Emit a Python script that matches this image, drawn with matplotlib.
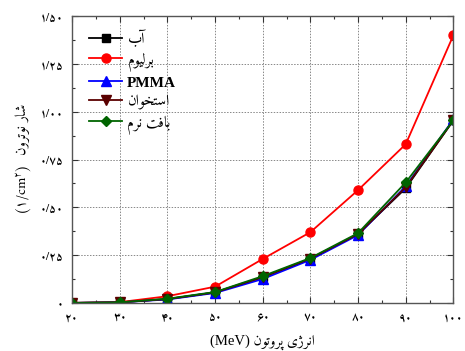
import matplotlib
matplotlib.use("Agg")
import matplotlib.pyplot as plt
from matplotlib.ticker import MultipleLocator, FixedLocator

plt.rcParams['font.family'] = ['Liberation Serif', 'Amiri', 'DejaVu Sans']
plt.rcParams['mathtext.fontset'] = 'custom'
plt.rcParams['mathtext.rm'] = 'Amiri'
plt.rcParams['mathtext.it'] = 'Amiri'
plt.rcParams['mathtext.bf'] = 'Amiri:bold'
plt.rcParams['mathtext.fallback'] = 'stix'

# ---------------- data ----------------
energy = [20, 30, 40, 50, 60, 70, 80, 90, 100]
water = [0, 0.003, 0.02, 0.055, 0.135, 0.23, 0.36, 0.60, 0.955]
beryllium = [0, 0.004, 0.035, 0.085, 0.23, 0.37, 0.59, 0.83, 1.40]
pmma = [0, 0.003, 0.018, 0.052, 0.125, 0.225, 0.355, 0.61, 0.96]
bone = [0, 0.003, 0.02, 0.055, 0.135, 0.232, 0.36, 0.605, 0.955]
soft_tissue = [0, 0.003, 0.022, 0.057, 0.14, 0.235, 0.365, 0.63, 0.955]

x_ticks = [20, 30, 40, 50, 60, 70, 80, 90, 100]
x_tick_labels = ['۲۰', '۳۰', '۴۰', '۵۰', '۶۰', '۷۰', '۸۰', '۹۰', '۱۰۰']
y_ticks = [0, 0.25, 0.5, 0.75, 1.0, 1.25, 1.5]
y_tick_labels = ['۰', '۰/۲۵', '۰/۵۰', '۰/۷۵', '۱/۰۰', '۱/۲۵', '۱/۵۰']

labels = ['آب', 'برلیوم', 'PMMA', 'استخوان', 'بافت نرم']
xlabel_fa = 'انرژی پروتون'
ylabel_fa = 'شار نوترون'

# ---------------- simple Persian shaping ----------------
FORMS = {
    'ا': ('\uFE8D', '\uFE8E', None, None),
    'آ': ('\uFE81', '\uFE82', None, None),
    'ب': ('\uFE8F', '\uFE90', '\uFE91', '\uFE92'),
    'پ': ('\uFB56', '\uFB57', '\uFB58', '\uFB59'),
    'ت': ('\uFE95', '\uFE96', '\uFE97', '\uFE98'),
    'خ': ('\uFEA5', '\uFEA6', '\uFEA7', '\uFEA8'),
    'ر': ('\uFEAD', '\uFEAE', None, None),
    'ز': ('\uFEAF', '\uFEB0', None, None),
    'ژ': ('\uFB8A', '\uFB8B', None, None),
    'س': ('\uFEB1', '\uFEB2', '\uFEB3', '\uFEB4'),
    'ش': ('\uFEB5', '\uFEB6', '\uFEB7', '\uFEB8'),
    'ف': ('\uFED1', '\uFED2', '\uFED3', '\uFED4'),
    'ل': ('\uFEDD', '\uFEDE', '\uFEDF', '\uFEE0'),
    'م': ('\uFEE1', '\uFEE2', '\uFEE3', '\uFEE4'),
    'ن': ('\uFEE5', '\uFEE6', '\uFEE7', '\uFEE8'),
    'و': ('\uFEED', '\uFEEE', None, None),
    'ی': ('\uFBFC', '\uFBFD', '\uFBFE', '\uFBFF'),
}


def fa(text):
    if not any(c in FORMS for c in text):
        return text
    out = []
    n = len(text)
    for i, c in enumerate(text):
        if c not in FORMS:
            out.append(c)
            continue
        prev_j = i > 0 and text[i - 1] in FORMS and FORMS[text[i - 1]][2] is not None
        next_j = i + 1 < n and text[i + 1] in FORMS and FORMS[c][2] is not None
        f = FORMS[c]
        if prev_j and next_j:
            out.append(f[3])
        elif prev_j:
            out.append(f[1])
        elif next_j:
            out.append(f[2])
        else:
            out.append(f[0])
    return ''.join(reversed(out))


# ---------------- plot ----------------
fig = plt.figure(figsize=(4.65, 3.51), dpi=100)
ax = fig.add_axes([0.155, 0.137, 0.82, 0.817])

series = [water, beryllium, pmma, bone, soft_tissue]
colors = ['black', '#ff0000', '#0000ff', '#5a0000', '#006400']
markers = ['s', 'o', '^', 'v', 'D']
msizes = [6, 6.5, 6.5, 6.5, 5.5]

for ys, c, m, ms, lab in zip(series, colors, markers, msizes, labels):
    ax.plot(energy, ys, color=c, marker=m, markersize=ms, linewidth=1.3,
            label=fa(lab))

ax.set_xlim(20, 100)
ax.set_ylim(0, 1.5)
ax.xaxis.set_major_locator(FixedLocator(x_ticks))
ax.set_xticklabels(x_tick_labels)
ax.yaxis.set_major_locator(FixedLocator(y_ticks))
ax.set_yticklabels(y_tick_labels)
ax.xaxis.set_minor_locator(MultipleLocator(5))
ax.yaxis.set_minor_locator(MultipleLocator(0.125))
ax.tick_params(which='both', direction='in', top=True, right=True,
               labelsize=8.5, colors='#333333')
ax.tick_params(which='major', length=4, width=0.8, pad=6)
ax.tick_params(which='minor', length=2.5, width=0.8)
for lab in ax.get_xticklabels() + ax.get_yticklabels():
    lab.set_fontweight('bold')
    lab.set_color('black')
for sp in ax.spines.values():
    sp.set_color('#555555')
    sp.set_linewidth(1.0)

ax.grid(True, which='major', linestyle=(0, (1.5, 1.5)), color='#888888',
        linewidth=0.7)

ax.set_xlabel('(MeV) ' + fa(xlabel_fa), fontsize=10.5, labelpad=8)
ax.set_ylabel('(۱/cm$^{۲}$)  ' + fa(ylabel_fa), fontsize=10.5, labelpad=5,
              fontfamily='Amiri')

leg = ax.legend(loc='upper left', bbox_to_anchor=(0.02, 0.985), frameon=False,
                fontsize=11, handlelength=2.2, handletextpad=0.3,
                labelspacing=0.33, borderaxespad=0.2)
for t in leg.get_texts():
    if t.get_text() == 'PMMA':
        t.set_fontweight('bold')

fig.savefig('out.png', dpi=100)
